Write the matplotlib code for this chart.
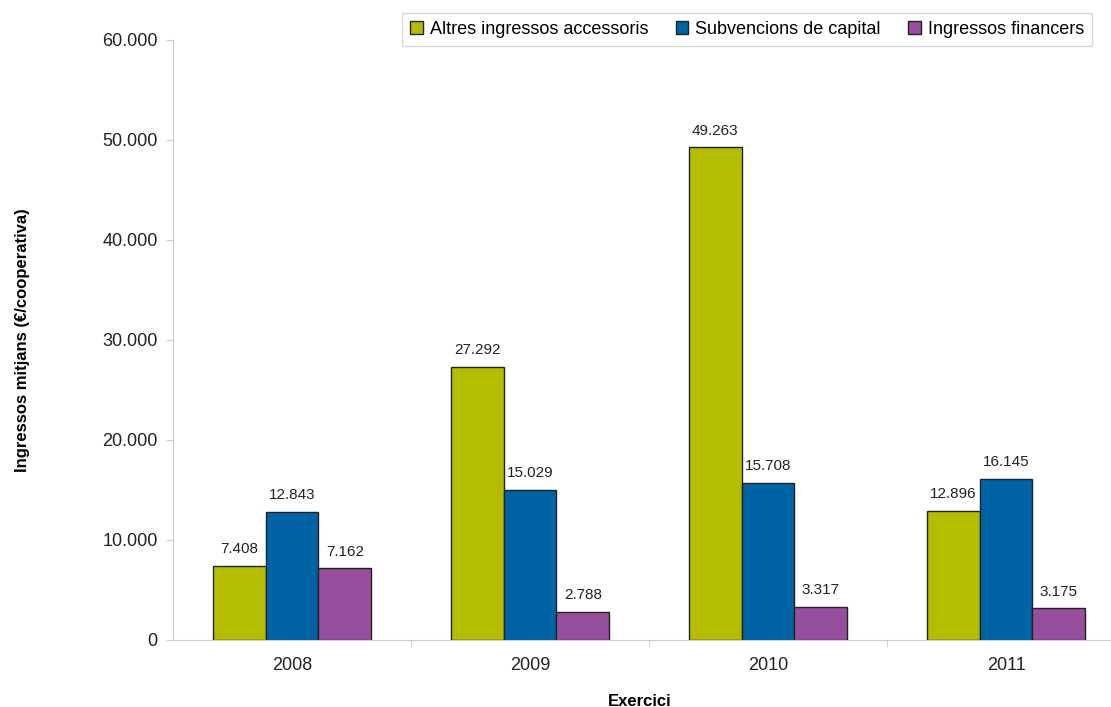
import numpy as np
import matplotlib
matplotlib.use('Agg')
import matplotlib.pyplot as plt
from matplotlib.ticker import FuncFormatter

plt.rcParams['font.family'] = ['Liberation Sans', 'DejaVu Sans']

# data
years = ['2008', '2009', '2010', '2011']
series_names = ['Altres ingressos accessoris', 'Subvencions de capital', 'Ingressos financers']
altres = [7408, 27292, 49263, 12896]
subvencions = [12843, 15029, 15708, 16145]
financers = [7162, 2788, 3317, 3175]
colors = ['#b5bd00', '#0063a6', '#954f9c']


def fmt_thousands(v, pos=None):
    return f'{int(v):,}'.replace(',', '.')


fig = plt.figure(figsize=(11.11, 7.07), dpi=100)
# axes run a bit past the right edge of the figure, like the original
ax = fig.add_axes([173 / 1111, 67 / 707, 952 / 1111, 600 / 707])

x = np.arange(len(years))
w = 0.222
for i, (vals, name, c) in enumerate(zip([altres, subvencions, financers], series_names, colors)):
    bars = ax.bar(x + (i - 1) * w, vals, w, color=c, edgecolor='#222222', linewidth=1.0, label=name)
    for b, v in zip(bars, vals):
        ax.annotate(fmt_thousands(v), (b.get_x() + b.get_width() / 2, v),
                    xytext=(0, 7), textcoords='offset points',
                    ha='center', va='bottom', fontsize=11, color='#222222')

ax.set_xlim(-0.5, 3.5)
ax.set_ylim(0, 60000)
ax.set_yticks(np.arange(0, 60001, 10000))
ax.yaxis.set_major_formatter(FuncFormatter(fmt_thousands))
ax.set_xticks(x)
ax.set_xticklabels(years)
ax.set_xticks(np.arange(0.5, 3.5, 1), minor=True)

for s in ['top', 'right']:
    ax.spines[s].set_visible(False)
for s in ['left', 'bottom']:
    ax.spines[s].set_color('#cccccc')
ax.tick_params(axis='y', colors='#cccccc', labelcolor='#222222', labelsize=13, length=5, pad=6)
ax.tick_params(axis='x', which='major', length=0, labelsize=13, labelcolor='#222222', pad=12)
ax.tick_params(axis='x', which='minor', length=5, colors='#cccccc')

ax.set_ylabel('Ingressos mitjans (€/cooperativa)', fontsize=12, fontweight='bold')
ax.set_xlabel('Exercici', fontsize=12, fontweight='bold')
ax.xaxis.set_label_coords(0.49, -0.09)
ax.yaxis.set_label_coords(-0.150, 0.5)

leg = ax.legend(loc='upper left', bbox_to_anchor=(402 / 1111, 1 - 13 / 707), bbox_transform=fig.transFigure,
                ncol=3, fontsize=13, frameon=True, fancybox=False, edgecolor='#cccccc',
                handlelength=0.7, handleheight=0.7, handletextpad=0.4, columnspacing=1.5,
                borderpad=0.45, borderaxespad=0)
leg.get_frame().set_linewidth(1.0)

fig.savefig('out.png', dpi=100)
